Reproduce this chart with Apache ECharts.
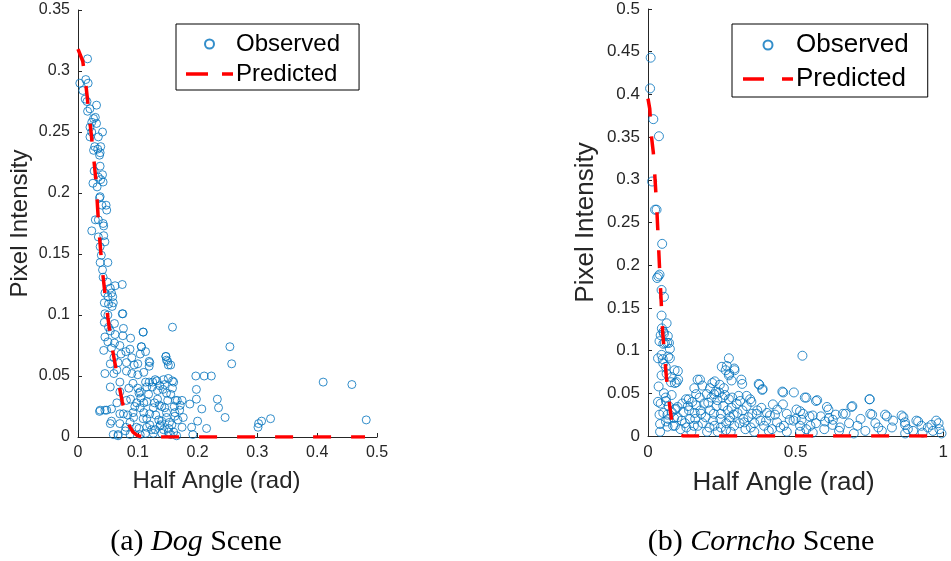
<!doctype html>
<html>
    <head>
        <meta charset="utf-8">
        <style>
            html, body { margin: 0; padding: 0; background: #fff; }
            #main { width: 951px; height: 561px; }
        </style>
    </head>
    <body>
        <div id="main"></div>
        <script src="https://cdn.jsdelivr.net/npm/echarts@6/dist/echarts.min.js"></script>
        <script>
            // (a) Dog scene: observed [half angle, intensity]
            var dogObserved = [
                [0.016, 0.31], [0.003, 0.29], [0.013, 0.293], [0.017, 0.29], [0.008, 0.284], [0.012, 0.277],
                [0.015, 0.275], [0.031, 0.272], [0.02, 0.269], [0.016, 0.267], [0.026, 0.261], [0.029, 0.262],
                [0.023, 0.258], [0.02, 0.254], [0.031, 0.257], [0.041, 0.25], [0.023, 0.25], [0.02, 0.246],
                [0.034, 0.246], [0.028, 0.238], [0.038, 0.238], [0.026, 0.235], [0.033, 0.236], [0.037, 0.233],
                [0.036, 0.231], [0.037, 0.222], [0.027, 0.218], [0.041, 0.215], [0.034, 0.213], [0.038, 0.211],
                [0.025, 0.208], [0.032, 0.205], [0.042, 0.209], [0.037, 0.197], [0.036, 0.196],
                [0.023, 0.169], [0.029, 0.178], [0.034, 0.178], [0.042, 0.175], [0.043, 0.173], [0.048, 0.186],
                [0.047, 0.19], [0.04, 0.19], [0.034, 0.164], [0.043, 0.165], [0.037, 0.156], [0.045, 0.16],
                [0.039, 0.149], [0.037, 0.143], [0.05, 0.143], [0.041, 0.137], [0.042, 0.131], [0.049, 0.127],
                [0.062, 0.124], [0.074, 0.125], [0.054, 0.122], [0.045, 0.118], [0.056, 0.118], [0.05, 0.115],
                [0.058, 0.115], [0.044, 0.11], [0.059, 0.11], [0.045, 0.101], [0.05, 0.1], [0.074, 0.101],
                [0.044, 0.094], [0.061, 0.093], [0.158, 0.09], [0.051, 0.09], [0.076, 0.089], [0.054, 0.087],
                [0.109, 0.086], [0.062, 0.084], [0.075, 0.083], [0.045, 0.082], [0.05, 0.078], [0.088, 0.081],
                [0.061, 0.077], [0.106, 0.074], [0.254, 0.074], [0.056, 0.073], [0.043, 0.071], [0.087, 0.072],
                [0.113, 0.07], [0.072, 0.068], [0.104, 0.068], [0.147, 0.066], [0.148, 0.063], [0.119, 0.062],
                [0.257, 0.06], [0.151, 0.059], [0.155, 0.059], [0.119, 0.058], [0.054, 0.06], [0.067, 0.061],
                [0.081, 0.061], [0.094, 0.059], [0.045, 0.052], [0.06, 0.052], [0.081, 0.054], [0.1, 0.051],
                [0.197, 0.05], [0.211, 0.05], [0.223, 0.05], [0.41, 0.045], [0.458, 0.043], [0.119, 0.045],
                [0.129, 0.047], [0.143, 0.047], [0.16, 0.045], [0.07, 0.045], [0.092, 0.044], [0.115, 0.041],
                [0.137, 0.042], [0.151, 0.048], [0.054, 0.041], [0.198, 0.039], [0.148, 0.036], [0.104, 0.037],
                [0.07, 0.037], [0.233, 0.031], [0.198, 0.031], [0.174, 0.03], [0.166, 0.03], [0.133, 0.031],
                [0.115, 0.029], [0.081, 0.03], [0.098, 0.028], [0.065, 0.028], [0.171, 0.026], [0.187, 0.027],
                [0.235, 0.024], [0.207, 0.023], [0.145, 0.024], [0.126, 0.024], [0.104, 0.024], [0.056, 0.023],
                [0.036, 0.021], [0.048, 0.022], [0.076, 0.019], [0.092, 0.02], [0.12, 0.019], [0.162, 0.02],
                [0.246, 0.016], [0.322, 0.015], [0.307, 0.013], [0.302, 0.011], [0.301, 0.008], [0.482, 0.014],
                [0.2, 0.013], [0.176, 0.016], [0.148, 0.016], [0.135, 0.014], [0.109, 0.015], [0.056, 0.013],
                [0.087, 0.012], [0.215, 0.007], [0.19, 0.008], [0.174, 0.008], [0.157, 0.01], [0.137, 0.009],
                [0.115, 0.008], [0.098, 0.008], [0.07, 0.011], [0.079, 0.005], [0.192, 0.002], [0.165, 0.001],
                [0.126, 0.003], [0.104, 0.002], [0.087, 0.002], [0.059, 0.002], [0.067, 0.001], [0.151, 0.004],
                [0.143, 0.006], [0.123, 0.006],
                [0.051, 0.109], [0.057, 0.107], [0.075, 0.101], [0.109, 0.086], [0.147, 0.066], [0.15, 0.062],
                [0.12, 0.061], [0.106, 0.074], [0.132, 0.046], [0.158, 0.046], [0.113, 0.045], [0.124, 0.041],
                [0.142, 0.039], [0.155, 0.035], [0.102, 0.036], [0.088, 0.031], [0.11, 0.028], [0.136, 0.026],
                [0.161, 0.025], [0.037, 0.022], [0.045, 0.022], [0.07, 0.019], [0.093, 0.016], [0.115, 0.015],
                [0.14, 0.013], [0.162, 0.017], [0.054, 0.011], [0.08, 0.008], [0.102, 0.007], [0.129, 0.006],
                [0.152, 0.007], [0.067, 0.002], [0.113, 0.003], [0.14, 0.003], [0.155, 0.002],
                [0.1, 0.04], [0.105, 0.032], [0.11, 0.02], [0.118, 0.035], [0.12, 0.01], [0.125, 0.045],
                [0.128, 0.028], [0.13, 0.018], [0.133, 0.038], [0.138, 0.01], [0.14, 0.025], [0.145, 0.043],
                [0.148, 0.02], [0.15, 0.03], [0.153, 0.012], [0.158, 0.04], [0.16, 0.004], [0.163, 0.03],
                [0.167, 0.014], [0.17, 0.022], [0.09, 0.052], [0.085, 0.04], [0.095, 0.025], [0.083, 0.018],
                [0.06, 0.065], [0.065, 0.055], [0.07, 0.075], [0.08, 0.07], [0.09, 0.065], [0.1, 0.06], [0.11, 0.053]
            ];
            var dogPredX = [0, 0.008, 0.014, 0.02, 0.025, 0.03, 0.035, 0.04, 0.045, 0.05, 0.056, 0.062,
                0.068, 0.074, 0.08, 0.086, 0.092, 0.1, 0.11, 0.2, 0.3, 0.4, 0.48];
            var dogPredY = [0.318, 0.308, 0.285, 0.258, 0.235, 0.21, 0.17, 0.14, 0.118, 0.098, 0.076, 0.06,
                0.044, 0.029, 0.017, 0.009, 0.004, 0.001, 0, 0, 0, 0, 0];

            // (b) Corncho scene
            var cornObserved = [
                [0.009, 0.443], [0.007, 0.407], [0.018, 0.371], [0.037, 0.351], [0.014, 0.298],
                [0.029, 0.265], [0.024, 0.265], [0.048, 0.225], [0.035, 0.187], [0.031, 0.185], [0.039, 0.189],
                [0.046, 0.171], [0.054, 0.163], [0.046, 0.141], [0.063, 0.132], [0.047, 0.126], [0.043, 0.118],
                [0.071, 0.109], [0.057, 0.109], [0.074, 0.102], [0.034, 0.091], [0.074, 0.091], [0.052, 0.122],
                [0.067, 0.117], [0.039, 0.111], [0.052, 0.108], [0.05, 0.09], [0.068, 0.093], [0.052, 0.085],
                [0.09, 0.077], [0.101, 0.076], [0.046, 0.071], [0.063, 0.073], [0.08, 0.069], [0.102, 0.066],
                [0.036, 0.058], [0.078, 0.063], [0.097, 0.063], [0.054, 0.12], [0.065, 0.109], [0.046, 0.095],
                [0.06, 0.081], [0.034, 0.04], [0.061, 0.041], [0.08, 0.048], [0.039, 0.025], [0.061, 0.017],
                [0.066, 0.025], [0.088, 0.021], [0.094, 0.032], [0.066, 0.011], [0.054, 0.05], [0.043, 0.038],
                [0.523, 0.094], [0.274, 0.091], [0.25, 0.081], [0.263, 0.077], [0.292, 0.079], [0.274, 0.071],
                [0.316, 0.066], [0.176, 0.066], [0.377, 0.06], [0.218, 0.062], [0.388, 0.055], [0.184, 0.059],
                [0.458, 0.051], [0.494, 0.051], [0.536, 0.045], [0.573, 0.042], [0.75, 0.043], [0.689, 0.034],
                [0.611, 0.031], [0.438, 0.031], [0.346, 0.043], [0.312, 0.041], [0.252, 0.045], [0.224, 0.049],
                [0.163, 0.049], [0.129, 0.043], [0.759, 0.025], [0.809, 0.023], [0.865, 0.022], [0.915, 0.017],
                [0.984, 0.015], [0.87, 0.016], [0.66, 0.026], [0.626, 0.019], [0.558, 0.024], [0.525, 0.026],
                [0.48, 0.019], [0.413, 0.024], [0.368, 0.026], [0.323, 0.02], [0.278, 0.022], [0.223, 0.026],
                [0.178, 0.03], [0.139, 0.03], [0.1, 0.034],
                [0.267, 0.082], [0.275, 0.073], [0.293, 0.077], [0.283, 0.065], [0.319, 0.061], [0.375, 0.061],
                [0.387, 0.054], [0.455, 0.052], [0.531, 0.045], [0.091, 0.062], [0.168, 0.066], [0.157, 0.056],
                [0.226, 0.064], [0.243, 0.06], [0.21, 0.056], [0.257, 0.056], [0.199, 0.049], [0.241, 0.051],
                [0.307, 0.047], [0.334, 0.047], [0.274, 0.043], [0.116, 0.038], [0.138, 0.043], [0.164, 0.036],
                [0.204, 0.039], [0.232, 0.035], [0.283, 0.033], [0.334, 0.035], [0.384, 0.033], [0.423, 0.037],
                [0.457, 0.037], [0.091, 0.031], [0.158, 0.027], [0.18, 0.026], [0.247, 0.026], [0.303, 0.027],
                [0.353, 0.026], [0.403, 0.027], [0.47, 0.026], [0.503, 0.031], [0.052, 0.027], [0.069, 0.02],
                [0.114, 0.018], [0.142, 0.02], [0.22, 0.018], [0.276, 0.018], [0.326, 0.016], [0.381, 0.018],
                [0.437, 0.016], [0.493, 0.018], [0.041, 0.014], [0.091, 0.012], [0.13, 0.01], [0.169, 0.012],
                [0.208, 0.01], [0.247, 0.01], [0.292, 0.012], [0.348, 0.01], [0.393, 0.012], [0.448, 0.01],
                [0.515, 0.012], [0.041, 0.005], [0.147, 0.005], [0.236, 0.005], [0.264, 0.007], [0.36, 0.005],
                [0.409, 0.006], [0.515, 0.005],
                [0.569, 0.041], [0.606, 0.034], [0.692, 0.035], [0.751, 0.043], [0.753, 0.026], [0.803, 0.025],
                [0.859, 0.024], [0.909, 0.018], [0.976, 0.018], [0.669, 0.026], [0.636, 0.025], [0.613, 0.021],
                [0.585, 0.023], [0.547, 0.023], [0.515, 0.029], [0.52, 0.019], [0.569, 0.015], [0.625, 0.013],
                [0.681, 0.015], [0.709, 0.012], [0.77, 0.015], [0.826, 0.01], [0.871, 0.013], [0.926, 0.012],
                [0.948, 0.01], [0.987, 0.008], [0.536, 0.008], [0.597, 0.008], [0.647, 0.006], [0.736, 0.006],
                [0.792, 0.006], [0.898, 0.006], [0.965, 0.006], [0.558, 0.004], [0.697, 0.003], [0.871, 0.003],
                [0.994, 0.003],
                [0.06, 0.045], [0.07, 0.035], [0.08, 0.028], [0.085, 0.012], [0.1, 0.022], [0.11, 0.008],
                [0.12, 0.028], [0.125, 0.015], [0.135, 0.035], [0.15, 0.04], [0.155, 0.012], [0.16, 0.02],
                [0.175, 0.045], [0.185, 0.015], [0.19, 0.038], [0.195, 0.022], [0.2, 0.005], [0.21, 0.03],
                [0.215, 0.045], [0.225, 0.012], [0.23, 0.052], [0.235, 0.042], [0.245, 0.02], [0.255, 0.035],
                [0.26, 0.048], [0.265, 0.015], [0.27, 0.03], [0.28, 0.005], [0.285, 0.045], [0.29, 0.025],
                [0.3, 0.038], [0.31, 0.015], [0.32, 0.03], [0.33, 0.008], [0.34, 0.022], [0.35, 0.04],
                [0.36, 0.015], [0.37, 0.03], [0.4, 0.018], [0.42, 0.008], [0.43, 0.025], [0.46, 0.012],
                [0.47, 0.005], [0.5, 0.02], [0.55, 0.012], [0.6, 0.017], [0.65, 0.01], [0.72, 0.02],
                [0.78, 0.01], [0.83, 0.018], [0.88, 0.008], [0.93, 0.004], [0.96, 0.013]
            ];
            var cornPredX = [0, 0.006, 0.012, 0.018, 0.024, 0.03, 0.035, 0.04, 0.045, 0.05, 0.056, 0.062,
                0.068, 0.074, 0.08, 0.09, 0.1, 0.12, 0.3, 0.5, 0.7, 0.9, 1.0];
            var cornPredY = [0.395, 0.383, 0.35, 0.332, 0.3, 0.265, 0.228, 0.19, 0.155, 0.12, 0.095, 0.07,
                0.05, 0.034, 0.019, 0.006, 0.002, 0, 0, 0, 0, 0, 0];

            var dogXTicks = [0, 0.5, 0.1];      // min, max, interval
            var dogYTicks = [0, 0.35, 0.05];
            var cornXTicks = [0, 1, 0.5];
            var cornYTicks = [0, 0.5, 0.05];

            var BLUE = '#0072BD';
            var RED = '#FF0000';
            var AXIS = '#262626';

            function zip(xs, ys) {
                return xs.map(function (x, i) { return [x, ys[i]]; });
            }

            function makeAxis(idx, ticks, name, nameGap, fs, nfs, namePad) {
                return {
                    type: 'value',
                    gridIndex: idx,
                    min: ticks[0], max: ticks[1], interval: ticks[2],
                    name: name,
                    nameLocation: 'middle',
                    nameGap: nameGap,
                    nameTextStyle: { fontFamily: 'Liberation Sans', fontSize: nfs, color: AXIS, padding: namePad },
                    axisLine: { show: true, lineStyle: { color: AXIS, width: 1 } },
                    axisTick: { show: true, inside: true, length: 4, lineStyle: { color: AXIS } },
                    axisLabel: { fontFamily: 'Liberation Sans', fontSize: fs, color: AXIS, margin: 8 },
                    splitLine: { show: false }
                };
            }

            // legend dash icon: long dash, gap, short dash
            function makeLegend(left, top, fs, iw, gap, pad, dashPath) {
                return {
                    left: left, top: top,
                    orient: 'vertical',
                    data: [
                        { name: 'Observed' },
                        { name: 'Predicted', icon: dashPath, itemStyle: { color: RED } }
                    ],
                    symbolKeepAspect: true,
                    backgroundColor: '#fff',
                    borderColor: '#000',
                    borderWidth: 1,
                    padding: pad,
                    itemWidth: iw,
                    itemHeight: 9,
                    itemGap: gap,
                    textStyle: { fontFamily: 'Liberation Sans', fontSize: fs, color: '#000', padding: [0, 0, 0, -2] }
                };
            }

            var chart = echarts.init(document.getElementById('main'));

            chart.setOption({
                animation: false,
                backgroundColor: '#fff',
                grid: [
                    { left: 78, top: 10, width: 299, height: 427 },
                    { left: 648, top: 9, width: 299, height: 427 }
                ],
                xAxis: [
                    makeAxis(0, dogXTicks, 'Half Angle (rad)', 32, 16, 24, [0, 22, 0, 0]),
                    makeAxis(1, cornXTicks, 'Half Angle (rad)', 34, 17, 26, [0, 24, 0, 0])
                ],
                yAxis: [
                    makeAxis(0, dogYTicks, 'Pixel Intensity', 46, 16, 24, 0),
                    makeAxis(1, cornYTicks, 'Pixel Intensity', 49, 17, 26, 0)
                ],
                legend: [
                    makeLegend(176, 24, 24, 47, 6, [8, 19, 4, 10],
                        'path://M0,0H22V3.5H0Z M36,0H47V3.5H36Z'),
                    makeLegend(732, 24, 26, 50, 8, [8, 19, 5, 11],
                        'path://M0,0H21V3.5H0Z M39,0H50V3.5H39Z')
                ],
                series: [
                    {
                        name: 'Observed', type: 'scatter', xAxisIndex: 0, yAxisIndex: 0,
                        symbol: 'circle', symbolSize: 8,
                        itemStyle: { color: 'rgba(0,0,0,0)', borderColor: BLUE, borderWidth: 1 },
                        data: dogObserved
                    },
                    {
                        name: 'Predicted', type: 'line', xAxisIndex: 0, yAxisIndex: 0,
                        symbol: 'none', color: RED,
                        lineStyle: { color: RED, width: 3.5, type: [18, 20] },
                        data: zip(dogPredX, dogPredY)
                    },
                    {
                        name: 'Observed', type: 'scatter', xAxisIndex: 1, yAxisIndex: 1,
                        symbol: 'circle', symbolSize: 9,
                        itemStyle: { color: 'rgba(0,0,0,0)', borderColor: BLUE, borderWidth: 1 },
                        data: cornObserved
                    },
                    {
                        name: 'Predicted', type: 'line', xAxisIndex: 1, yAxisIndex: 1,
                        symbol: 'none', color: RED,
                        lineStyle: { color: RED, width: 3.5, type: [18, 20] },
                        data: zip(cornPredX, cornPredY)
                    }
                ],
                graphic: [
                    {
                        type: 'text', x: 196, y: 527,
                        style: {
                            text: '(a) {it|Dog} Scene',
                            align: 'center',
                            font: '30px "Liberation Serif"',
                            fill: '#000',
                            rich: { it: { fontStyle: 'italic', fontFamily: 'Liberation Serif', fontSize: 30 } }
                        }
                    },
                    {
                        type: 'text', x: 761, y: 527,
                        style: {
                            text: '(b) {it|Corncho} Scene',
                            align: 'center',
                            font: '30px "Liberation Serif"',
                            fill: '#000',
                            rich: { it: { fontStyle: 'italic', fontFamily: 'Liberation Serif', fontSize: 30 } }
                        }
                    }
                ]
            });

            window.addEventListener('resize', function () {
                chart.resize();
            });
        </script>
    </body>
</html>
